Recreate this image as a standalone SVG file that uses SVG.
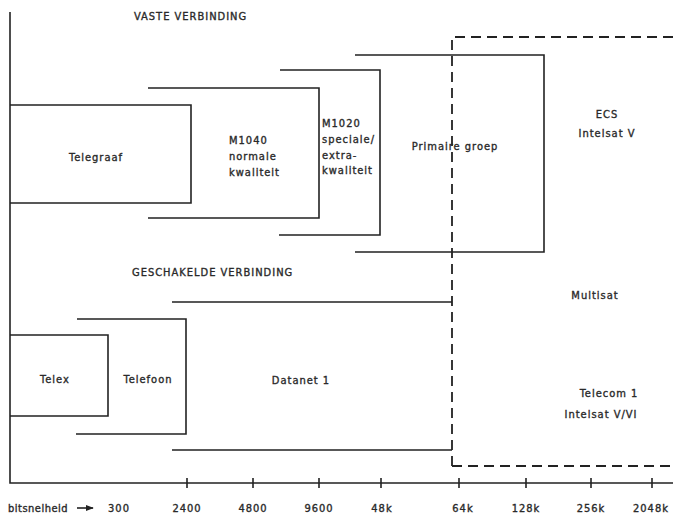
<svg xmlns="http://www.w3.org/2000/svg" width="673" height="519" viewBox="0 0 673 519">
<style>
text{font-family:"DejaVu Sans Condensed","Liberation Sans",sans-serif;font-size:11px;letter-spacing:1px;fill:#2a2a2a;stroke:#2a2a2a;stroke-width:0.35px;}
.m{text-anchor:middle;}
.ln{stroke:#222;stroke-width:1.6;fill:none;}
.ds{stroke:#222;stroke-width:1.8;fill:none;stroke-dasharray:10,6;}
</style>
<defs>
<marker id="ah" viewBox="0 0 10 10" refX="9" refY="5" markerWidth="5" markerHeight="5" orient="auto"><path d="M0,1 L10,5 L0,9 z" fill="#222"/></marker>
</defs>
<rect width="673" height="519" fill="#fff"/>
<g id="axes">
<path class="ln" d="M10,12 V483 H673"/>
<path class="ln" d="M187,478V488 M253,478V488 M319,478V488 M381,478V488 M459,478V488 M526,478V488 M591,478V488 M652,478V488"/>
</g>
<g id="axis-labels">
<text x="8" y="512" style="letter-spacing:0.5px">bitsnelheid</text>
<line class="ln" x1="77" y1="508" x2="93" y2="508" marker-end="url(#ah)"/>
<text class="m" x="119" y="512">300</text>
<text class="m" x="187" y="512">2400</text>
<text class="m" x="253" y="512">4800</text>
<text class="m" x="319" y="512">9600</text>
<text class="m" x="382" y="512">48k</text>
<text class="m" x="463" y="512">64k</text>
<text class="m" x="526" y="512">128k</text>
<text class="m" x="591" y="512">256k</text>
<text class="m" x="651" y="512">2048k</text>
</g>
<text x="134" y="20">VASTE  VERBINDING</text>
<text x="132" y="276">GESCHAKELDE  VERBINDING</text>
<g id="connectors">
<path class="ds" d="M452,466 V37 H673"/>
<path class="ds" d="M452,466 H673"/>
</g>
<g id="telegraaf">
<path class="ln" d="M10,105 H191 V203 H10"/>
<text class="m" x="96" y="161">Telegraaf</text>
</g>
<g id="m1040">
<path class="ln" d="M148,88 H319 V218 H148"/>
<text x="229" y="144">M1040</text>
<text x="229" y="160">normale</text>
<text x="229" y="176">kwaliteit</text>
</g>
<g id="m1020">
<path class="ln" d="M280,70 H380 V235 H279"/>
<text x="322" y="127">M1020</text>
<text x="322" y="143">speciale/</text>
<text x="322" y="159">extra-</text>
<text x="322" y="174">kwaliteit</text>
</g>
<g id="primaire-groep">
<path class="ln" d="M355,55 H544 V252 H355"/>
<text class="m" x="455" y="150">Primaire groep</text>
</g>
<g id="ecs">
<text class="m" x="607" y="118">ECS</text>
<text class="m" x="607" y="137">Intelsat V</text>
</g>
<g id="multisat">
<text class="m" x="595" y="299">Multisat</text>
</g>
<g id="datanet">
<path class="ln" d="M172,302 H452 M172,450 H452"/>
<text class="m" x="301" y="384">Datanet 1</text>
</g>
<g id="telefoon">
<path class="ln" d="M77,319 H186 V434 H76"/>
<text class="m" x="148" y="383">Telefoon</text>
</g>
<g id="telex">
<path class="ln" d="M10,335 H108 V416 H10"/>
<text class="m" x="55" y="383">Telex</text>
</g>
<g id="telecom">
<text class="m" x="609" y="397">Telecom 1</text>
<text class="m" x="601" y="418">Intelsat V/VI</text>
</g>
</svg>
